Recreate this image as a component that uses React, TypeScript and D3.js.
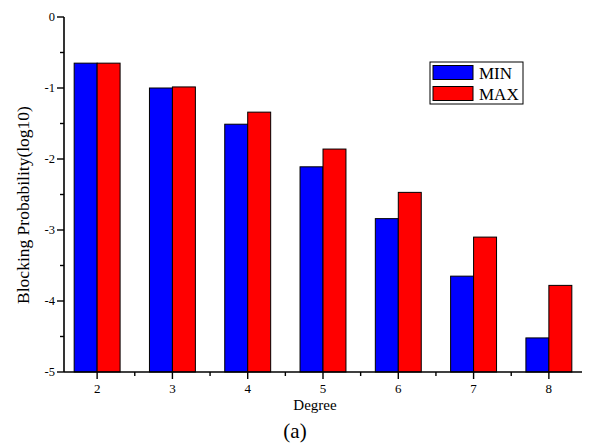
import React from "react";
import * as d3 from "d3";

const degrees = [2, 3, 4, 5, 6, 7, 8];
const minValues = [-0.65, -1.0, -1.51, -2.11, -2.84, -3.65, -4.52];
const maxValues = [-0.65, -0.985, -1.34, -1.86, -2.47, -3.1, -3.78];
const yTicks = [0, -1, -2, -3, -4, -5];
const yMinorTicks = [-0.5, -1.5, -2.5, -3.5, -4.5];
const xMinorTicks = [2.5, 3.5, 4.5, 5.5, 6.5, 7.5];
const seriesNames = ["MIN", "MAX"];
const seriesColors = ["#0000ff", "#ff0000"];

const W = 616;
const H = 445;
const font = "'Liberation Serif', 'Times New Roman', serif";

export default function App() {
  const x = d3.scaleLinear().domain([1.56, 8.44]).range([64, 582]);
  const y = d3.scaleLinear().domain([-5, 0]).range([372, 17]);
  const bw = x(2.305) - x(2);
  const series = [minValues, maxValues];

  return (
    <svg
      width={W}
      height={H}
      style={{ position: "absolute", left: 0, top: 0, background: "#fff" }}
      fontFamily={font}
    >
      <rect width={W} height={H} fill="#fff" />
      {series.map((vals, si) =>
        degrees.map((d, i) => {
          const x0 = si === 0 ? x(d) - bw : x(d);
          return (
            <rect
              key={`${si}-${d}`}
              x={x0}
              y={y(vals[i])}
              width={bw}
              height={y(-5) - y(vals[i])}
              fill={seriesColors[si]}
              stroke="#000"
              strokeWidth={1}
            />
          );
        })
      )}
      {/* Y axis */}
      <line x1={x(1.56)} x2={x(1.56)} y1={y(0)} y2={y(-5)} stroke="#000" strokeWidth={1.6} />
      {yTicks.map((t) => (
        <g key={`yt${t}`}>
          <line x1={x(1.56) - 7} x2={x(1.56)} y1={y(t)} y2={y(t)} stroke="#000" strokeWidth={1.4} />
          <text x={55} y={y(t)} dy="0.35em" textAnchor="end" fontSize={12.5} fill="#000">
            {t}
          </text>
        </g>
      ))}
      {yMinorTicks.map((t) => (
        <line key={`ym${t}`} x1={x(1.56) - 4} x2={x(1.56)} y1={y(t)} y2={y(t)} stroke="#000" strokeWidth={1.4} />
      ))}
      {/* X axis */}
      <line x1={x(1.56)} x2={x(8.44)} y1={y(-5)} y2={y(-5)} stroke="#000" strokeWidth={1.6} />
      {degrees.map((d) => (
        <g key={`xt${d}`}>
          <line x1={x(d)} x2={x(d)} y1={y(-5)} y2={y(-5) + 7} stroke="#000" strokeWidth={1.4} />
          <text x={x(d)} y={393} textAnchor="middle" fontSize={13} fill="#000">
            {d}
          </text>
        </g>
      ))}
      {xMinorTicks.map((t) => (
        <line key={`xm${t}`} x1={x(t)} x2={x(t)} y1={y(-5)} y2={y(-5) + 4} stroke="#000" strokeWidth={1.4} />
      ))}
      <text x={315} y={410} textAnchor="middle" fontSize={15} fill="#000">
        Degree
      </text>
      <text x={295} y={438} textAnchor="middle" fontSize={21} fill="#000">
        (a)
      </text>
      <text
        transform={`translate(29,205) rotate(-90)`}
        textAnchor="middle"
        fontSize={17.5}
        fill="#000"
      >
        Blocking Probability(log10)
      </text>
      {/* Legend */}
      <rect x={430} y={62} width={93} height={42} fill="#fff" stroke="#000" strokeWidth={1} />
      {seriesNames.map((n, i) => (
        <g key={n}>
          <rect x={433} y={65.5 + i * 21} width={40} height={14} fill={seriesColors[i]} stroke="#000" strokeWidth={1} />
          <text x={479} y={78.5 + i * 21} fontSize={17} fill="#000">
            {n}
          </text>
        </g>
      ))}
    </svg>
  );
}
